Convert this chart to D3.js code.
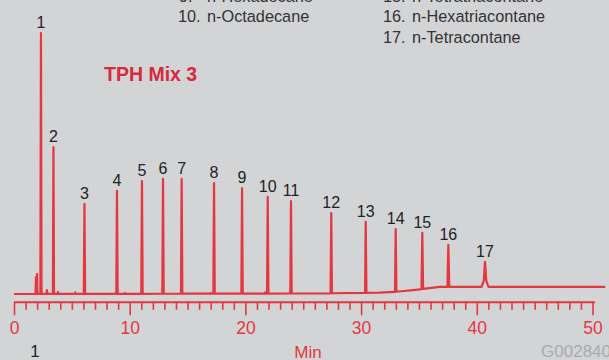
<!DOCTYPE html>
<html>
<head>
<meta charset="utf-8">
<script src="https://cdn.jsdelivr.net/npm/d3@7/dist/d3.min.js"></script>
<style>
html,body{margin:0;padding:0;background:#d3d4d6;}
svg{display:block;}
text{font-family:"Liberation Sans",Arial,Helvetica,sans-serif;}
</style>
</head>
<body>
<svg id="chart" width="609" height="360"></svg>
<script>
// ---- data ----
const peakLabels = ["1","2","3","4","5","6","7","8","9","10","11","12","13","14","15","16","17"];
const peakTimes  = [2.33,3.41,6.09,8.90,11.06,12.88,14.49,17.29,19.71,21.93,23.94,27.42,30.40,32.99,35.29,37.54,40.71];
const peakHeights= [100,56.3,34.5,39.5,43.3,44.1,44.1,42.5,40.6,37.2,35.6,31.0,27.6,24.9,23.4,18.8,12.3];
const peakWidths = [0.05,0.05,0.06,0.06,0.06,0.06,0.06,0.06,0.06,0.06,0.06,0.06,0.06,0.06,0.07,0.08,0.3];
// small unlabelled peaks
const minorTimes   = [1.90,1.99,2.85,3.80,5.30,9.6,17.0,21.7];
const minorHeights = [6.5,7.7,1.5,0.8,0.6,0.4,0.4,0.6];
// baseline drift
const baseTimes  = [0,26,31.6,32.9,35.1,36.8,51.1];
const baseLevels = [0,0.2,0.5,0.8,1.8,2.7,2.7];
const axisTicks  = [0,10,20,30,40,50];
const legendNums  = ["9.","10.","15.","16.","17."];
const legendNames = ["n-Hexadecane","n-Octadecane","n-Tetratriacontane","n-Hexatriacontane","n-Tetracontane"];

// ---- layout ----
const svg = d3.select("#chart");
const red = "#e4373f";
const x = d3.scaleLinear().domain([0,50]).range([14,592.5]);
const y = d3.scaleLinear().domain([0,100]).range([294,33]);
const base = d3.scaleLinear().domain(baseTimes).range(baseLevels).clamp(true);

// build trace points
const peaks = peakTimes.map((t,i)=>({t, h:peakHeights[i], w:peakWidths[i]}))
  .concat(minorTimes.map((t,i)=>({t, h:minorHeights[i], w:0.04})));
peaks.sort((a,b)=>a.t-b.t);
let pts = [];
baseTimes.forEach((t,i)=>{
  if(!peaks.some(p=>t>p.t-p.w && t<p.t+p.w)) pts.push([t, baseLevels[i]]);
});
peaks.forEach(p=>{
  pts.push([p.t-p.w, base(p.t-p.w)]);
  if(p.w>0.2){
    const b = base(p.t);
    pts.push([p.t-p.w*0.35, b+(p.h-b)*0.25]);
    pts.push([p.t-p.w*0.12, b+(p.h-b)*0.8]);
    pts.push([p.t, p.h]);
    pts.push([p.t+p.w*0.12, b+(p.h-b)*0.8]);
    pts.push([p.t+p.w*0.35, b+(p.h-b)*0.25]);
  } else {
    pts.push([p.t, p.h]);
  }
  pts.push([p.t+p.w, base(p.t+p.w)]);
});
pts.sort((a,b)=>a[0]-b[0]);

svg.append("path")
  .datum(pts)
  .attr("fill","none")
  .attr("stroke",red)
  .attr("stroke-width",2.2)
  .attr("stroke-linejoin","round")
  .attr("d", d3.line().x(d=>x(d[0])).y(d=>y(d[1])));

// peak labels
svg.append("g").selectAll("text")
  .data(peakLabels)
  .join("text")
  .attr("x",(d,i)=>x(peakTimes[i]))
  .attr("y",(d,i)=>y(peakHeights[i])-5)
  .attr("text-anchor","middle")
  .attr("font-size",16)
  .attr("fill","#222")
  .text(d=>d);

// x axis
const axis = d3.axisBottom(x)
  .tickValues(d3.range(0,51,1))
  .tickSize(7)
  .tickFormat(d=> axisTicks.includes(d)? d : "");
const gA = svg.append("g").attr("transform","translate(0,302.3)").call(axis);
gA.select(".domain").attr("stroke",red).attr("stroke-width",2).attr("d","M14,0H595");
gA.selectAll(".tick line").attr("stroke",red).attr("stroke-width",1.6)
  .attr("y2",d=>axisTicks.includes(d)?13:7.5);
gA.selectAll(".tick text").attr("fill",red).attr("font-size",17.5)
  .attr("font-family","Liberation Sans,Arial,sans-serif").attr("dy",0).attr("y",32);

svg.append("text").attr("x",308).attr("y",358).attr("text-anchor","middle")
  .attr("font-size",17).attr("fill",red).text("Min");
svg.append("text").attr("x",35).attr("y",357).attr("text-anchor","middle")
  .attr("font-size",17).attr("fill","#222").text("1");
svg.append("text").attr("x",611).attr("y",357).attr("text-anchor","end")
  .attr("font-size",17).attr("fill","#a9aaac").text("G002840");

// title
svg.append("text").attr("x",104).attr("y",81)
  .attr("font-size",19.5).attr("font-weight","bold").attr("fill","#d62a3c")
  .text("TPH Mix 3");

// legend
const legX = [179,178,383,383,383];
const legY = [1.5,22,1.5,22,43.3];
const gL = svg.append("g").attr("font-size",16.3).attr("fill","#333");
legendNums.forEach((n,i)=>{
  gL.append("text").attr("x",legX[i]).attr("y",legY[i]).text(n);
  gL.append("text").attr("x",legX[i]<300?207:412).attr("y",legY[i]).text(legendNames[i]);
});
</script>
</body>
</html>
